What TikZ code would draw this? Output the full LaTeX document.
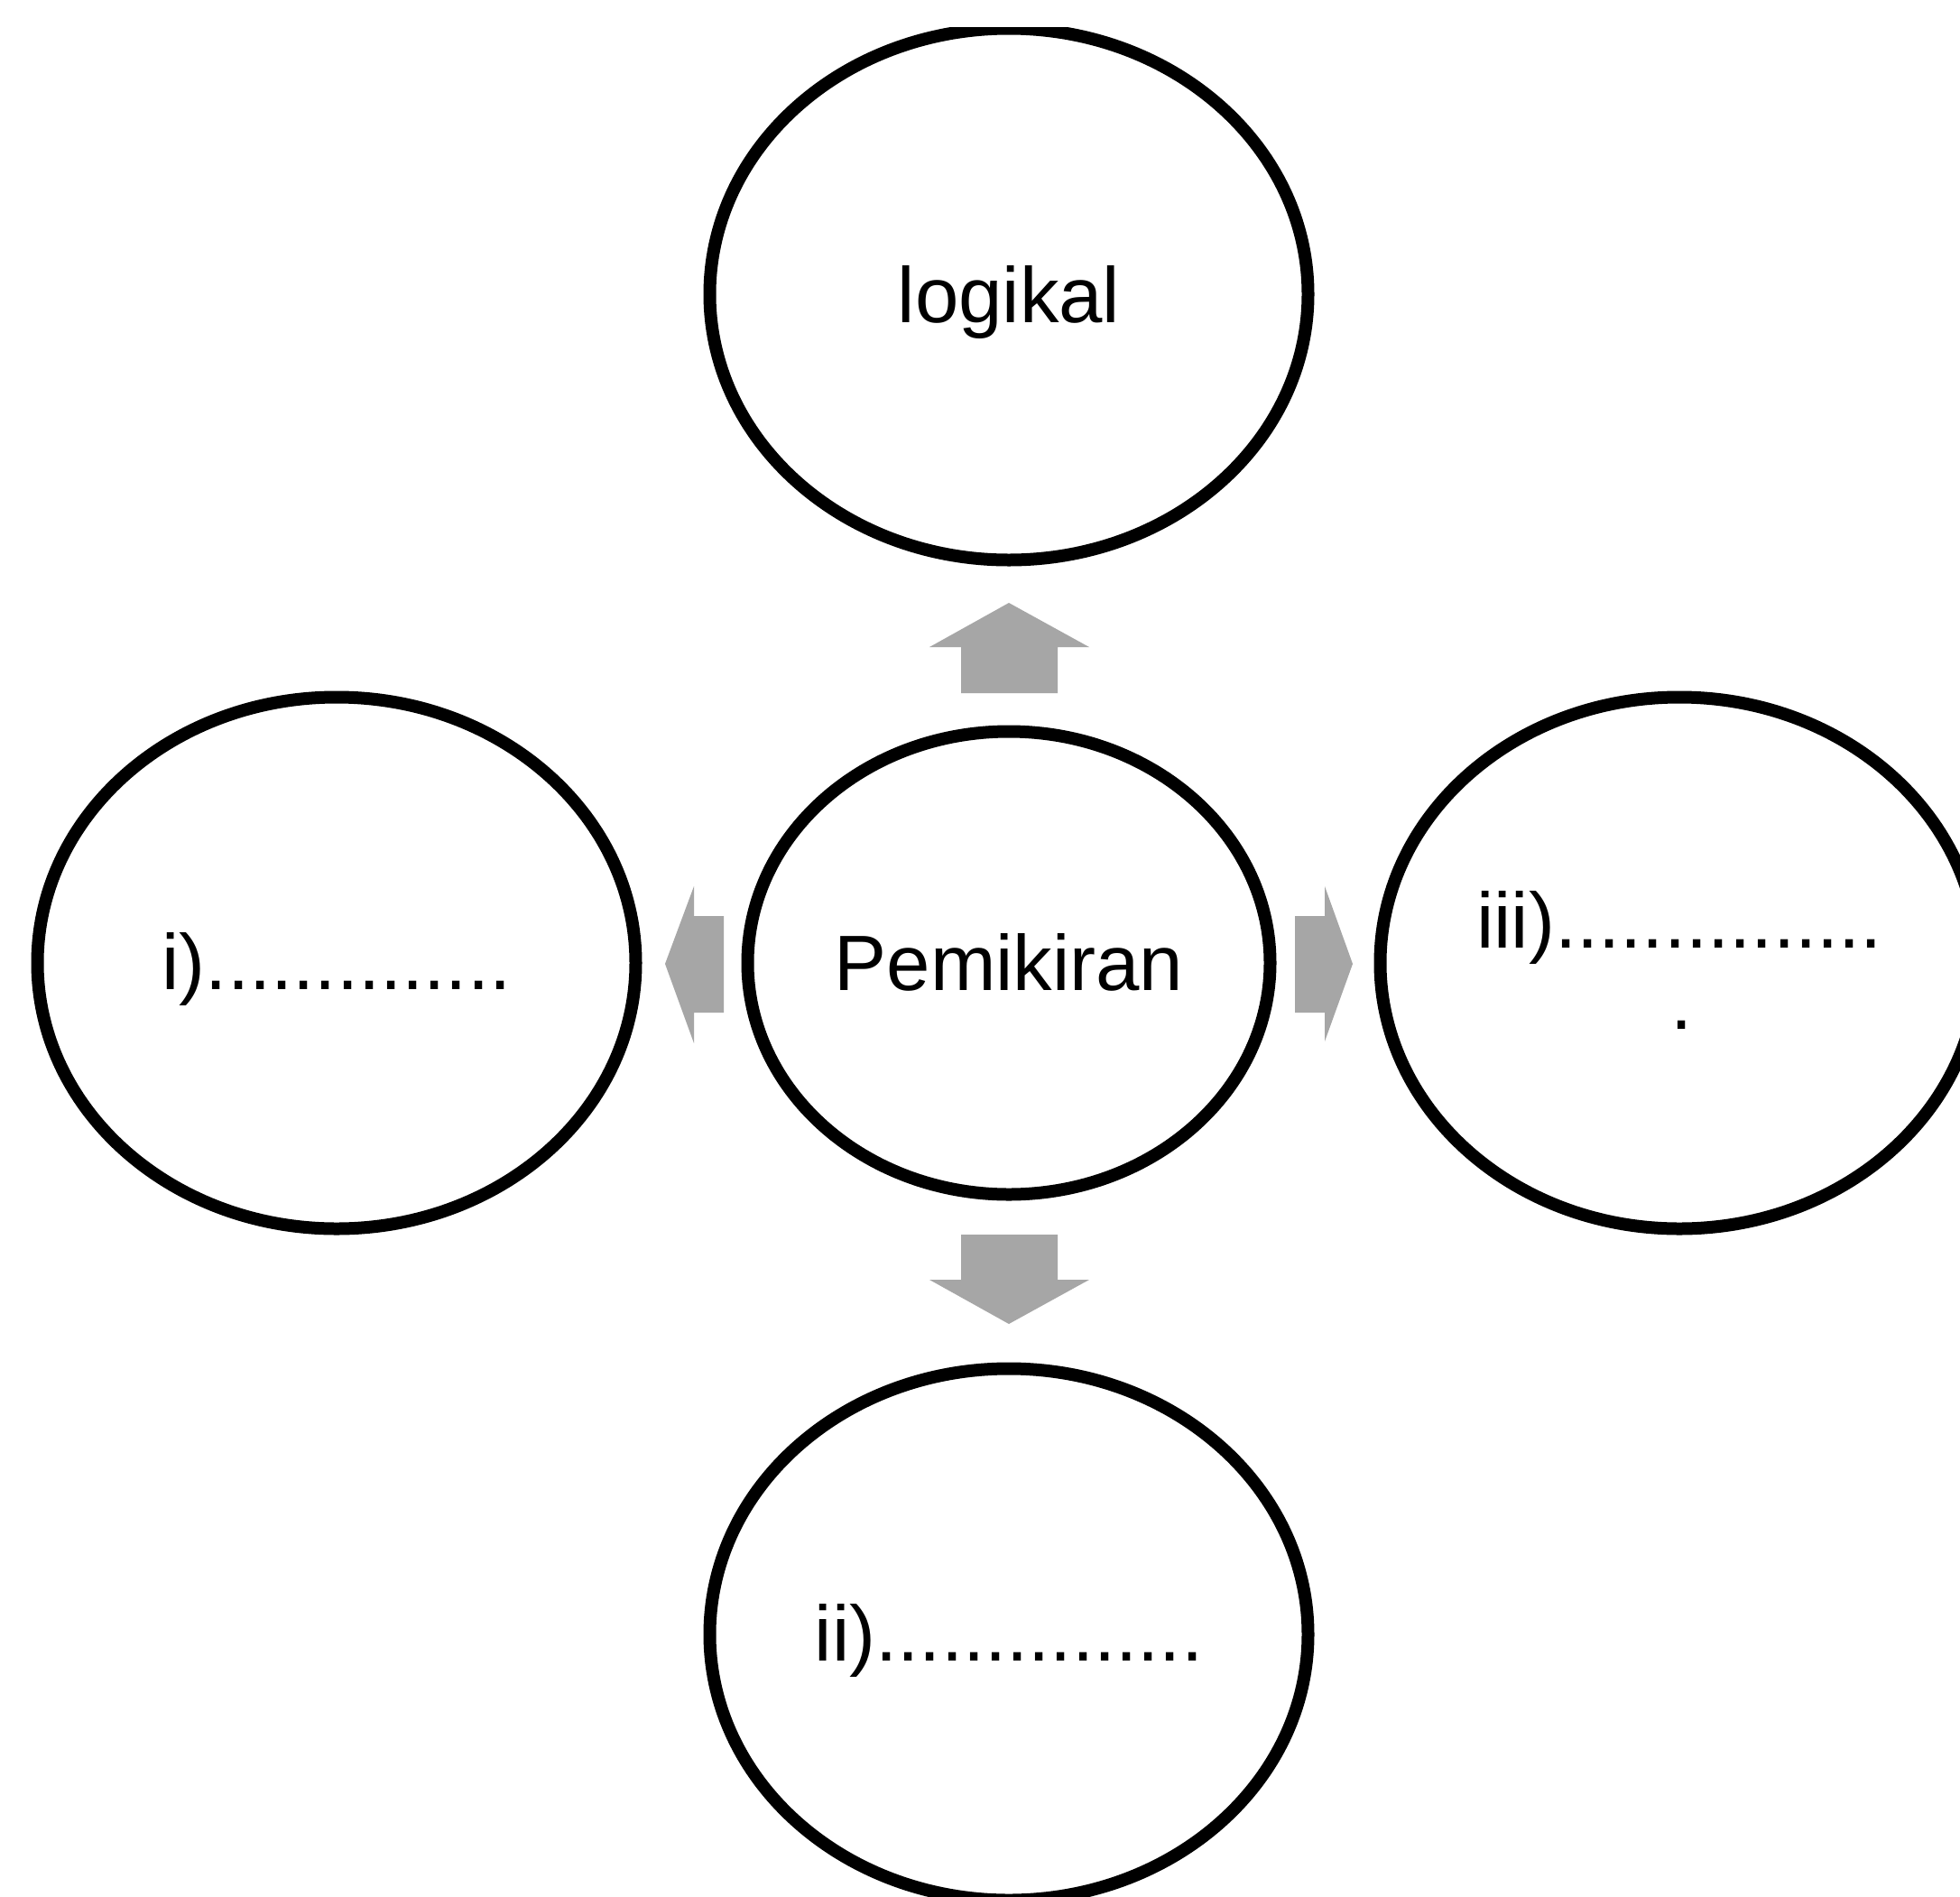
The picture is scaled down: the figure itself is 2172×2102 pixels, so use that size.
\documentclass[tikz,border=0pt]{standalone}
\usepackage{fontspec}
\setmainfont{Liberation Sans}
\usetikzlibrary{shapes.geometric}
\definecolor{arrowgray}{RGB}{166,166,166}
\begin{document}
\begin{tikzpicture}[x=1pt,y=-1pt,
  bigell/.style={ellipse,draw=black,line width=14pt,minimum width=663pt,minimum height=589pt,inner sep=0pt},
  midell/.style={ellipse,draw=black,line width=14pt,minimum width=579pt,minimum height=513pt,inner sep=0pt},
  lbl/.style={anchor=base,font=\fontsize{87}{90}\selectfont,inner sep=0pt},
  blockarrow/.style={fill=arrowgray,draw=none}]
\useasboundingbox (0,0) rectangle (2172,2102);
\fill[white] (0,0) rectangle (2172,2102);
\begin{scope}
\clip (0,30) rectangle (2172,2102);
\node[midell] (pem) at (1118,1067) {};
\node[bigell] (top) at (1118,326) {};
\node[bigell] (bot) at (1118,1811) {};
\node[bigell] (lft) at (373,1067) {};
\node[bigell] (rgt) at (1861,1067) {};
\end{scope}
\node[lbl] (tpem) at (1118,1097) {Pemikiran};
\node[lbl] (ttop) at (1118,357) {logikal};
\node[lbl] (tlft) at (373,1096) {i)..............};
\node[lbl] (tbot) at (1118,1840) {ii)...............};
\node[lbl] (trgt) at (1861,1050) {iii)...............};
\node[lbl] (trgt2) at (1864,1140) {.};
% block arrows
\fill[blockarrow] (1118,668) -- (1207,717) -- (1172,717) -- (1172,768) -- (1065,768) -- (1065,717) -- (1030,717) -- cycle;
\fill[blockarrow] (1065,1368) -- (1172,1368) -- (1172,1418) -- (1207,1418) -- (1118,1467) -- (1030,1418) -- (1065,1418) -- cycle;
\fill[blockarrow] (1435,1015) -- (1468,1015) -- (1468,982) -- (1499,1068) -- (1468,1154) -- (1468,1122) -- (1435,1122) -- cycle;
\fill[blockarrow] (802,1015) -- (769,1015) -- (769,982) -- (737,1068) -- (769,1156) -- (769,1122) -- (802,1122) -- cycle;
\end{tikzpicture}
\end{document}
